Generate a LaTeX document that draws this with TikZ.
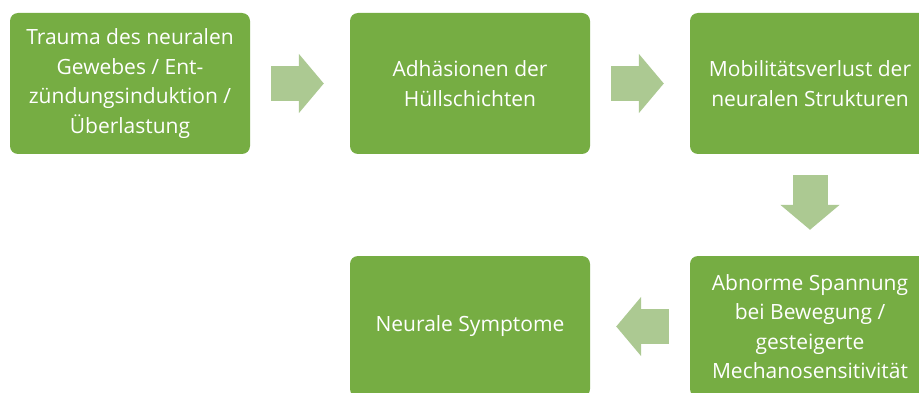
\documentclass[tikz,border=0pt]{standalone}
\usepackage{fontspec}
\setmainfont{Open Sans}
\usetikzlibrary{arrows.meta}
\definecolor{boxgreen}{RGB}{118,173,67}
\definecolor{arrowgreen}{RGB}{172,201,146}
\tikzset{
  stepbox/.style={rectangle, rounded corners=8pt, fill=boxgreen, text=white,
    minimum width=240pt, minimum height=141pt, inner sep=0pt,
    align=center, font=\fontsize{21}{29.5}\selectfont},
  flow arrow/.style={draw=arrowgreen, line width=35pt,
    -{Triangle[width=58pt, length=25pt]}, shorten <=21pt, shorten >=26pt},
}

\begin{document}
\begin{tikzpicture}[x=1pt, y=-1pt]
  \clip (0,0) rectangle (919,393);
  \fill[white] (0,0) rectangle (919,393);
  \node[stepbox] (trauma)   at (130,83.5)  {Trauma des neuralen\\Gewebes / Ent-\\zündungsinduktion /\\Überlastung};
  \node[stepbox] (adhaesion) at (470,83.5) {Adhäsionen der\\Hüllschichten};
  \node[stepbox] (mobil)    at (810,83.5)  {Mobilitätsverlust der\\neuralen Strukturen};
  \node[stepbox] (spannung) at (810,326.5) {Abnorme Spannung\\bei Bewegung /\\gesteigerte\\Mechanosensitivität};
  \node[stepbox] (symptom)  at (470,326.5) {Neurale Symptome};
  \draw[flow arrow] (trauma) -- (adhaesion);
  \draw[flow arrow] (adhaesion) -- (mobil);
  \draw[flow arrow] (mobil) -- (spannung);
  \draw[flow arrow] (spannung) -- (symptom);
\end{tikzpicture}
\end{document}
